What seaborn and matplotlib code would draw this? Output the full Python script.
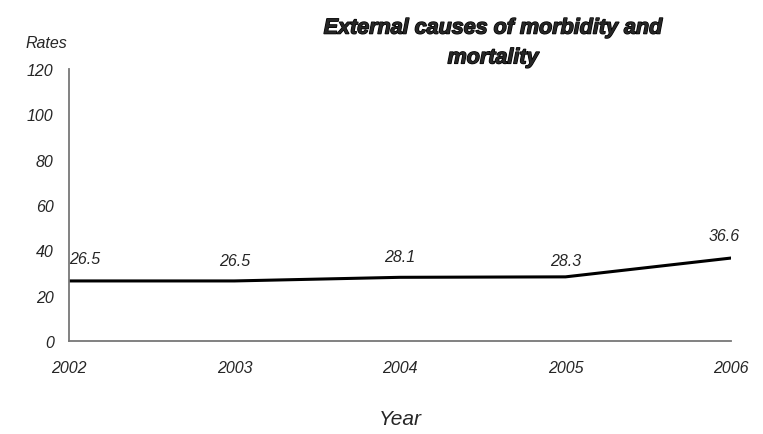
import matplotlib
matplotlib.use("Agg")
import matplotlib.pyplot as plt
import matplotlib.patheffects as pe
import seaborn as sns
import pandas as pd

years = [2002, 2003, 2004, 2005, 2006]
rates = [26.5, 26.5, 28.1, 28.3, 36.6]
rate_labels = ["26.5", "26.5", "28.1", "28.3", "36.6"]
yticks = [0, 20, 40, 60, 80, 100, 120]

sns.set_theme(style="white")
plt.rcParams['font.family'] = ['Liberation Sans', 'DejaVu Sans']

df = pd.DataFrame({"Year": years, "Rate": rates})

fig = plt.figure(figsize=(7.63, 4.35), dpi=100)
ax = fig.add_axes([0.0904, 0.2138, 0.958 - 0.0904, 0.839 - 0.2138])
sns.lineplot(data=df, x="Year", y="Rate", color="black", linewidth=2.2, ax=ax)

ax.set_xlim(2002, 2006)
ax.set_ylim(0, 120)
ax.set_xticks(years)
ax.set_xticklabels([str(y) for y in years], fontstyle="italic", fontsize=11.5)
ax.set_yticks(yticks)
ax.set_yticklabels([str(t) for t in yticks], fontstyle="italic", fontsize=11.5)
ax.tick_params(axis="both", direction="in", length=4, width=1, color="#777777")
ax.tick_params(axis="x", pad=13.5)
ax.tick_params(axis="y", pad=11)

for s in ["top", "right"]:
    ax.spines[s].set_visible(False)
for s in ["left", "bottom"]:
    ax.spines[s].set_color("#777777")
    ax.spines[s].set_linewidth(1.3)

ax.set_xlabel("Year", fontstyle="italic", fontsize=15, labelpad=25)
ax.set_ylabel("")

offsets = [(0, 16, "left"), (0, 15, "center"), (0, 15, "center"), (0, 12, "center"), (-5, 16, "center")]
for x, y, lab, (dx, dy, ha) in zip(years, rates, rate_labels, offsets):
    ax.annotate(lab, (x, y), xytext=(dx, dy), textcoords="offset points",
                ha=ha, va="center", fontsize=11.5, fontstyle="italic")

fig.text(25 / 763, 1 - 43 / 435, "Rates", fontsize=11.5, fontstyle="italic", ha="left", va="center")
fig.text(493 / 763, 1 - 44 / 435, "External causes of morbidity and\nmortality",
         fontsize=15.5, fontweight="bold", fontstyle="italic", ha="center", va="center",
         linespacing=1.55,
         path_effects=[pe.withStroke(linewidth=1.0, foreground="black")])

fig.savefig("out.png", dpi=100)
